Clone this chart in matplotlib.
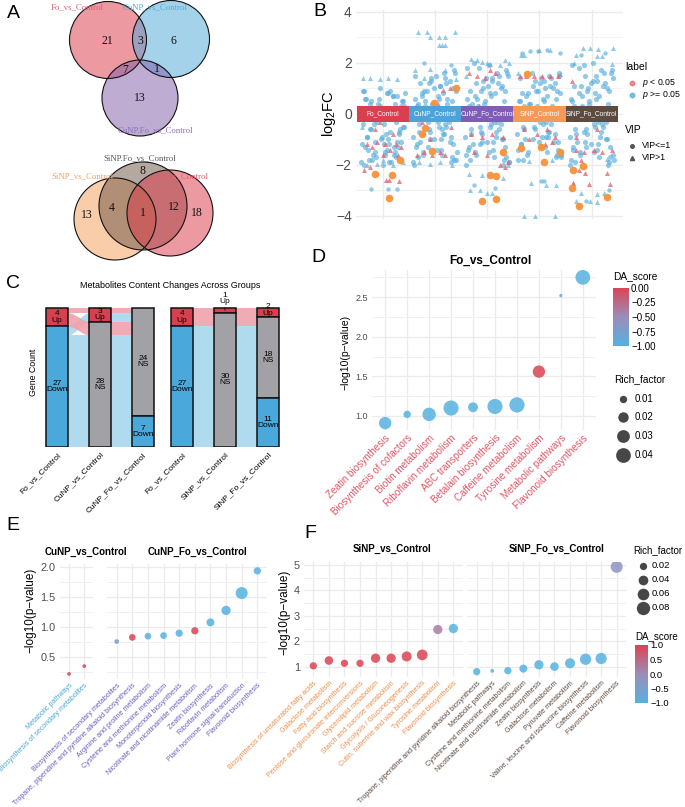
import numpy as np
import matplotlib
matplotlib.use('Agg')
import matplotlib.pyplot as plt
from matplotlib.patches import Circle, Rectangle
from matplotlib.lines import Line2D
from matplotlib.colors import LinearSegmentedColormap, Normalize

plt.rcParams['font.family'] = ['Liberation Sans', 'DejaVu Sans']
plt.rcParams['mathtext.fontset'] = 'custom'
plt.rcParams['mathtext.it'] = 'Liberation Sans:italic'
plt.rcParams['mathtext.rm'] = 'Liberation Sans'

# ---------------- data ----------------
# A: Venn diagrams (region code -> count, order of sets as listed)
venn_top_sets = ['Fo_vs_Control', 'CuNP_vs_Control', 'CuNP.Fo_vs_Control']
venn_top_regions = ['100', '010', '001', '110', '101', '011']
venn_top_counts = [21, 6, 13, 3, 7, 1]
venn_bot_sets = ['SiNP_vs_Control', 'SiNP.Fo_vs_Control', 'Fo_vs_Control']
venn_bot_regions = ['100', '010', '001', '110', '011', '111']
venn_bot_counts = [13, 8, 18, 4, 12, 1]

# B: log2FC per comparison
b_groups = ['Fo_Control', 'CuNP_Control', 'CuNP_Fo_Control', 'SiNP_Control', 'SiNP_Fo_Control']
b_jitter = [-0.38, 0.12, -0.05, 0.33, -0.21, 0.27, -0.12, 0.04, 0.39, -0.30, 0.18, -0.41, 0.08, -0.16,
            0.35, -0.02, 0.22, -0.34, 0.14, -0.08, 0.30, -0.25, 0.01, 0.41, -0.19, 0.10, -0.36, 0.25,
            -0.11, 0.37, -0.28, 0.06, 0.19, -0.40, 0.29, -0.06, 0.16, -0.23, 0.40, -0.14, 0.03, -0.32,
            0.24, -0.01, 0.34, -0.27, 0.11, -0.39, 0.21, -0.09, 0.31, -0.18, 0.07, 0.38, -0.35, 0.15,
            -0.04, 0.26, -0.22, 0.09, -0.42, 0.32, -0.13, 0.20, -0.31, 0.02, 0.36, -0.24, 0.13, -0.07,
            0.28, -0.37, 0.17, -0.15, 0.42, -0.29, 0.05, 0.23, -0.10, -0.33]
b_blue_y = [
    [0.9, -1.2, 0.3, -0.6, -1.8, 0.7, -0.2, -1.5, 0.5, -0.9, 0.1, -1.9, 0.8, -0.4, -1.1, 0.2, -1.6, 0.6,
     -0.7, -0.1, -1.3, 0.4, -2.0, -0.5, 0.0, -1.0, 0.9, -1.7, -0.3, 0.5, -1.4, -0.8, 0.7, -1.2, -0.2, 1.0,
     -1.9, -0.6, 0.3, -1.1, -0.4, 0.6, -1.5, -0.9, 0.1, -1.8, 0.8, -0.1, -1.3, 0.4, -0.7, -1.6, 0.2, -0.5,
     -2.0, 0.9, -1.0, -0.3, 0.5, -1.4, 0.0, -0.8, -1.7, 0.7, -0.2, -1.2, 0.3, -0.6, -1.9, 0.6, -1.1, -0.4,
     0.1, -1.5, 0.8, -0.9, -1.6, 0.4, -0.1, -1.3],
    [1.5, -1.0, 0.4, -1.7, 0.9, -0.3, 1.2, -1.4, 0.1, -0.7, 1.6, -1.9, 0.6, -0.1, -1.2, 1.0, -0.5, 0.3,
     -1.6, 1.4, -0.9, 0.8, -0.2, -1.8, 0.5, 1.1, -1.3, 0.0, -0.6, 1.7, -1.1, 0.7, -0.4, -2.0, 1.3, 0.2,
     -0.8, -1.5, 0.9, -0.3, 1.5, -1.7, 0.4, -1.0, 1.0, -0.1, -1.4, 0.6, 1.2, -0.7, -1.9, 0.3, -0.5, 1.6,
     -1.2, 0.8, -0.2, 0.0, -1.6, 1.1, -0.9, 0.5, -1.3, 1.4, -0.4, 0.2, -1.8, 0.7, -0.6, 1.3, -1.1, 0.1,
     -0.8, 0.9, -1.5, 1.2, -0.3, 0.6, -1.0, 0.4],
    [1.8, -1.1, 0.5, -1.8, 1.2, -0.4, 0.9, -1.5, 0.2, -0.8, 1.6, -2.0, 0.7, -0.2, -1.3, 1.4, -0.6, 0.3,
     -1.7, 1.0, -1.0, 2.0, -0.1, -1.9, 0.6, 1.3, -1.4, 0.0, -0.7, 1.7, -1.2, 0.8, -0.3, -1.6, 1.1, 0.4,
     -0.9, -1.5, 1.5, -0.5, 1.9, -1.8, 0.1, -1.1, 0.9, -0.2, -1.4, 0.6, 1.2, -0.8, -2.0, 0.3, -0.4, 1.6,
     -1.3, 0.8, -0.1, 1.0, -1.6, 1.4, -0.9, 0.5, -1.2, 0.2, -0.6, 1.1, -1.7, 0.7, -0.3, 1.3, -1.0, 0.0,
     -0.7, 1.8, -1.9, 0.4, -0.5, 1.5, -1.1, 0.9],
    [1.4, -0.9, 0.3, -1.6, 0.8, -0.2, 1.1, -1.3, 0.0, -0.6, 1.5, -1.8, 0.5, -0.1, -1.1, 0.9, -0.4, 0.2,
     -1.5, 1.3, -0.8, 0.7, -0.3, -1.7, 0.4, 1.0, -1.2, 0.1, -0.5, 1.6, -1.0, 0.6, -0.7, -1.4, 1.2, 0.2,
     -0.9, -1.6, 0.8, -0.2, 1.4, -1.8, 0.3, -1.1, 0.9, 0.0, -1.3, 0.5, 1.1, -0.6, -1.7, 0.4, -0.4, 1.5,
     -1.2, 0.7, -0.1, 1.0, -1.5, 1.3, -0.8, 0.6, -1.0, 0.2, -0.5, 1.2, -1.4, 0.1, -0.3, 0.9, -1.1, 0.5,
     -0.7, 1.6, -1.6, 0.3, -0.9, 1.4, -0.2, 0.8],
    [1.9, -1.2, 0.4, -1.9, 1.1, -0.3, 1.5, -1.5, 0.1, -0.8, 1.7, -2.0, 0.6, -0.1, -1.3, 1.2, -0.5, 0.3,
     -1.7, 0.9, -1.0, 1.8, -0.2, -1.6, 0.7, 1.3, -1.4, 0.0, -0.6, 1.6, -1.1, 0.8, -0.4, -1.8, 1.0, 0.5,
     -0.9, -1.5, 1.4, -0.7, 2.0, -1.9, 0.2, -1.2, 0.9, -0.2, -1.4, 0.6, 1.1, -0.8, -2.0, 0.3, -0.5, 1.7,
     -1.3, 0.7, 0.0, 1.2, -1.6, 1.5, -0.9, 0.4, -1.1, 0.1, -0.6, 1.3, -1.7, 0.8, -0.3, 1.0, -1.0, 0.5,
     -0.7, 1.9, -1.8, 0.2, -0.4, 1.6, -1.3, 1.1],
]
# (jitter, log2FC) of other points
b_blue_extra = [
    [(-0.23, -2.95), (0.1, -2.95), (0.28, -2.95)],
    [(-0.2, 2.0), (0.3, 1.9)],
    [(-0.25, -2.8), (0.15, -2.9)],
    [(-0.33, 2.4), (-0.18, 2.45), (-0.02, 2.45), (0.15, 2.5), (0.4, 2.4), (0.03, -2.65), (0.09, -2.65)],
    [(-0.2, 2.3), (0.25, 2.4), (-0.1, -3.4), (0.33, -3.0)],
]
b_blue_tri = [
    [(-0.38, 1.4), (-0.25, 1.4), (-0.05, 1.35), (0.1, 1.4), (0.27, 1.35), (-0.3, -2.0), (-0.1, -1.95),
     (0.2, -2.0), (0.38, -1.9), (0.35, 0.2), (-0.4, -0.5), (0.0, -1.8)],
    [(-0.33, 3.2), (-0.15, 3.2), (0.38, 3.2), (-0.1, 3.0), (0.08, 3.0), (0.19, 3.0), (0.08, 2.7),
     (0.14, 2.7), (0.2, 2.7), (-0.38, 1.7), (-0.1, 1.75), (0.2, 1.7), (-0.3, -1.9), (-0.1, -1.95),
     (0.1, -1.9), (0.32, -2.0), (0.4, 1.35), (-0.2, 1.4)],
    [(-0.3, 2.15), (-0.2, 2.1), (-0.1, 2.05), (0.0, 2.0), (0.05, 1.95), (0.35, 2.1), (0.42, 2.0),
     (-0.35, -2.35), (-0.1, -2.4), (-0.32, -3.0), (-0.13, -3.0), (0.0, -3.1), (0.1, -3.1), (0.3, -2.5),
     (0.4, -2.0), (-0.4, 1.5), (0.25, 1.9)],
    [(-0.36, 2.3), (-0.3, 2.3), (0.0, 2.5), (0.2, 2.5), (-0.17, -2.7), (0.13, -2.8), (0.32, -2.8),
     (-0.3, -4.0), (-0.08, -4.0), (0.3, -4.0), (-0.4, 1.6), (0.4, 1.55), (-0.2, -1.85), (0.25, -1.8)],
    [(-0.16, 2.6), (-0.03, 2.6), (0.12, 2.55), (0.41, 2.6), (-0.3, 2.3), (0.1, 2.25), (0.2, 2.25),
     (-0.33, 2.0), (-0.2, -3.1), (0.1, -3.15), (0.23, -3.1), (-0.3, -3.4), (-0.04, -3.4), (0.1, -3.45),
     (-0.36, -2.7), (0.38, 1.95), (0.3, -1.75)],
]
b_red_tri = [
    [(-0.3, -1.2), (-0.2, -1.3), (-0.1, -1.1), (0.05, -1.2), (0.15, -1.4), (0.25, -1.2), (0.35, -1.3),
     (-0.35, -2.2), (-0.25, -2.1), (0.07, -2.6), (0.13, -2.6), (0.31, -2.65), (-0.15, -0.6), (0.2, -0.8),
     (0.0, -1.6), (0.3, -1.6), (-0.05, -0.3)],
    [(0.15, 0.95), (0.28, 1.0), (-0.35, -1.6), (-0.2, -1.5), (-0.05, -1.6), (0.1, -1.5), (0.2, -1.6),
     (-0.25, -0.3), (0.3, -0.5), (0.05, 0.4), (-0.1, -1.0)],
    [(-0.35, 1.6), (-0.2, 1.5), (-0.05, 1.4), (0.05, 1.7), (0.15, 1.6), (-0.3, -0.8), (-0.1, -0.9),
     (0.1, -0.8), (0.3, -0.9), (-0.25, -1.5), (0.0, -1.6), (0.25, -2.0), (0.35, -2.1), (0.4, -1.9),
     (-0.15, 0.3)],
    [(-0.38, 1.5), (-0.25, 1.5), (-0.1, 1.5), (0.05, 1.5), (0.2, 1.5), (0.35, 1.5), (-0.3, -0.6),
     (-0.05, -0.8), (0.15, -0.6), (0.3, -0.9), (-0.2, -1.0), (0.1, -1.2), (0.25, -1.1)],
    [(-0.38, 1.3), (-0.3, -1.4), (-0.15, -1.5), (0.05, -1.4), (0.2, -1.5), (0.38, -1.4), (-0.2, -1.8),
     (-0.25, -2.2), (-0.12, -2.3), (0.3, -2.3), (-0.35, -2.7), (-0.05, -2.75), (0.35, -2.75),
     (0.1, -0.6), (-0.3, -0.9)],
]
b_top = [
    [(0.33, -1.8), (-0.15, -2.35), (0.18, -2.4), (0.12, -3.3)],
    [(-0.01, 0.42), (0.4, 1.0), (-0.19, -0.55), (-0.25, -0.8), (-0.05, -1.45)],
    [(0.3, -1.5), (0.06, -2.4), (0.16, -2.45), (-0.09, -3.4), (0.17, -3.35)],
    [(-0.24, 1.55), (-0.35, -1.35), (0.03, -1.28), (0.08, -1.87), (0.39, -1.5)],
    [(-0.36, -2.2), (-0.17, -2.05), (-0.37, -2.9), (-0.24, -3.6), (0.3, -3.25)],
]

# C: alluvial (status in each comparison, count)
c_left_groups = ['Fo_vs_Control', 'CuNP_vs_Control', 'CuNP_Fo_vs_Control']
c_left_alluvia = [(('Up', 'Up', 'NS'), 1), (('Down', 'Up', 'NS'), 2), (('Up', 'NS', 'NS'), 3),
                  (('Down', 'NS', 'NS'), 18), (('Down', 'NS', 'Down'), 7)]
c_right_groups = ['Fo_vs_Control', 'SiNP_vs_Control', 'SiNP_Fo_vs_Control']
c_right_alluvia = [(('Up', 'Up', 'Up'), 1), (('Up', 'NS', 'Up'), 1), (('Up', 'NS', 'NS'), 2),
                   (('Down', 'NS', 'NS'), 16), (('Down', 'NS', 'Down'), 11)]

# D
d_path = ['Zeatin biosynthesis', 'Biosynthesis of cofactors', 'Biotin metabolism', 'Riboflavin metabolism',
          'ABC transporters', 'Betalain biosynthesis', 'Caffeine metabolism', 'Tyrosine metabolism',
          'Metabolic pathways', 'Flavonoid biosynthesis']
d_logp = [0.91, 1.02, 1.02, 1.10, 1.11, 1.12, 1.14, 1.56, 2.52, 2.75]
d_rich = [0.028, 0.01, 0.033, 0.042, 0.018, 0.042, 0.043, 0.028, 0.002, 0.04]
d_da = [-1, -1, -1, -1, -1, -1, -1, 0, -1, -1]

# E
e1_path = ['Metabolic pathways', 'Biosynthesis of secondary metabolites']
e1_logp = [0.22, 0.35]
e1_rich = [0.001, 0.001]
e1_da = [1, 1]
e2_path = ['Biosynthesis of secondary metabolites', 'Tropane, piperidine and pyridine alkaloid biosynthesis',
           'Arginine and proline metabolism', 'Cysteine and methionine metabolism',
           'Monoterpenoid biosynthesis', 'Nicotinate and nicotinamide metabolism', 'Zeatin biosynthesis',
           'Riboflavin metabolism', 'Plant hormone signal transduction', 'Flavonoid biosynthesis']
e2_logp = [0.76, 0.83, 0.85, 0.86, 0.90, 0.94, 1.08, 1.28, 1.57, 1.94]
e2_rich = [0.005, 0.016, 0.016, 0.016, 0.02, 0.02, 0.025, 0.036, 0.064, 0.02]
e2_da = [-0.33, 1, -1, -1, -1, 1, -1, -1, -1, -1]

# F
f1_path = ['Biosynthesis of unsaturated fatty acids', 'Galactose metabolism', 'Fatty acid biosynthesis',
           'Pentose and glucuronate interconversions', 'Glycerolipid metabolism',
           'Starch and sucrose metabolism', 'Glycolysis / Gluconeogenesis',
           'Cutin, suberine and wax biosynthesis', 'Tyrosine metabolism', 'Flavonoid biosynthesis']
f1_logp = [1.03, 1.24, 1.13, 1.13, 1.33, 1.33, 1.40, 1.46, 2.46, 2.50]
f1_rich = [0.02, 0.03, 0.02, 0.02, 0.036, 0.036, 0.043, 0.05, 0.036, 0.036]
f1_da = [1, 1, 1, 1, 1, 1, 1, 1, 0.2, -1]
f2_path = ['Tropane, piperidine and pyridine alkaloid biosynthesis', 'Metabolic pathways',
           'Cysteine and methionine metabolism', 'Nicotinate and nicotinamide metabolism',
           'Zeatin biosynthesis', 'Galactose metabolism', 'Pyruvate metabolism',
           'Valine, leucine and isoleucine biosynthesis', 'Caffeine metabolism', 'Flavonoid biosynthesis']
f2_logp = [0.80, 0.83, 0.84, 0.92, 1.07, 1.00, 1.13, 1.29, 1.32, 4.93]
f2_rich = [0.02, 0.001, 0.02, 0.025, 0.036, 0.03, 0.043, 0.056, 0.056, 0.064]
f2_da = [-1, -1, -1, -1, -1, -1, -1, -1, -1, -0.2]

# ---------------- figure ----------------
W, H = 685, 807
fig = plt.figure(figsize=(W / 100, H / 100), dpi=100)


def px_axes(x0, y0, x1, y1):
    return fig.add_axes([x0 / W, 1 - y1 / H, (x1 - x0) / W, (y1 - y0) / H])


def ftext(x, y, s, **kw):
    return fig.text(x / W, 1 - y / H, s, **kw)


def fmarker(x, y, **kw):
    fig.add_artist(Line2D([x / W], [1 - y / H], transform=fig.transFigure, lw=0, **kw))


cmap = LinearSegmentedColormap.from_list('da', ['#56B1E0', '#9C8DB8', '#DC4353'])
GRID = '#EBEBEB'
TICK = '#4D4D4D'

for letter, (lx, ly) in zip('ABCDEF', [(13, 13), (320, 12), (13, 284), (318, 258), (13, 525), (310, 533)]):
    ftext(lx, ly, letter, fontsize=14, ha='center', va='center')

# ---- A: Venn ----
axA = px_axes(0, 0, 215, 270)
axA.set_xlim(0, 215)
axA.set_ylim(270, 0)
axA.axis('off')

venn_layouts = [
    dict(sets=venn_top_sets, regions=venn_top_regions, counts=venn_top_counts,
         geo=[((108, 40), 38.5), ((171, 39), 38.5), ((140, 98), 38)],
         fill=['#DC3545', '#4DA6D9', '#7E5AA8'], text=['#E0606E', '#4BAEDD', '#8A6FC0'],
         label_xy=[(77, 7), (155, 7), (155, 130)],
         region_xy={'100': (107, 41), '010': (173, 41), '001': (140, 98), '110': (140, 41),
                    '101': (125, 70), '011': (157, 69)}),
    dict(sets=venn_bot_sets, regions=venn_bot_regions, counts=venn_bot_counts,
         geo=[((115, 219), 41), ((143, 206), 44), ((170, 213), 43)],
         fill=['#F59C55', '#6B5344', '#DC3545'], text=['#F5A060', '#555555', '#E0606E'],
         label_xy=[(82, 176), (140, 158), (182, 176)],
         region_xy={'100': (87, 215), '010': (143, 171), '001': (197, 213), '110': (112, 208),
                    '011': (174, 207), '111': (143, 213)}),
]
for v in venn_layouts:
    for (c, r), fc in zip(v['geo'], v['fill']):
        axA.add_patch(Circle(c, r, facecolor=fc, alpha=0.5, edgecolor='none'))
    for (c, r) in v['geo']:
        axA.add_patch(Circle(c, r, facecolor='none', edgecolor='#111111', lw=0.8))
    for name, xy, col in zip(v['sets'], v['label_xy'], v['text']):
        axA.text(*xy, name, color=col, fontsize=6.3, ha='center', va='center', family='Liberation Serif')
    for reg, n in zip(v['regions'], v['counts']):
        axA.text(*v['region_xy'][reg], str(n), fontsize=8.5, ha='center', va='center',
                 family='Liberation Serif', color='#111111')

# ---- B: log2FC scatter ----
axB = px_axes(356, 10, 623, 219)
axB.set_xlim(0.49, 5.6)
axB.set_ylim(-4.12, 4.07)
for i in range(len(b_groups)):
    xc = i + 1
    by = b_blue_y[i]
    axB.scatter(xc + np.array(b_jitter[:len(by)]), by, s=14, color='#5AAEDD', alpha=0.65, lw=0, zorder=2)
    ex = np.array(b_blue_extra[i])
    axB.scatter(xc + ex[:, 0], ex[:, 1], s=10, color='#5AAEDD', alpha=0.65, lw=0, zorder=2)
    bt = np.array(b_blue_tri[i])
    axB.scatter(xc + bt[:, 0], bt[:, 1], s=13, marker='^', color='#5AAEDD', alpha=0.65, lw=0, zorder=2)
    rt = np.array(b_red_tri[i])
    axB.scatter(xc + rt[:, 0], rt[:, 1], s=13, marker='^', color='#E0606E', alpha=0.75, lw=0, zorder=3)
    tp = np.array(b_top[i])
    axB.scatter(xc + tp[:, 0], tp[:, 1], s=30, color='#F7923A', alpha=0.95, lw=0, zorder=4)
b_band_colors = ['#D8404F', '#4DA3D8', '#7E5CB8', '#F59A55', '#5F4A3F']
for i, (g, col) in enumerate(zip(b_groups, b_band_colors)):
    axB.add_patch(Rectangle((i + 0.5, -0.3), 1, 0.6, facecolor=col, edgecolor='none', zorder=6))
    axB.text(i + 1, 0, g, color='white', fontsize=4.8, ha='center', va='center', zorder=7)
axB.set_xticks(range(1, 6))
axB.set_xticklabels([])
axB.set_yticks([-4, -2, 0, 2, 4])
axB.set_yticks([-3, -1, 1, 3], minor=True)
axB.grid(True, which='major', color=GRID, lw=1.0)
axB.grid(True, which='minor', axis='y', color='#F2F2F2', lw=0.8)
axB.set_axisbelow(True)
for s in axB.spines.values():
    s.set_visible(False)
axB.tick_params(which='both', length=0, labelsize=10, labelcolor=TICK, pad=3)
ftext(329, 114, 'log$_2$FC', rotation=90, fontsize=10.5, ha='center', va='center')
ftext(625, 67, 'label', fontsize=7.5, va='center')
fmarker(632, 83, marker='o', ms=3.2, color='#E0606E', alpha=0.7)
ftext(642, 83, '$p$ < 0.05', fontsize=6.3, va='center')
fmarker(632, 95, marker='o', ms=3.2, color='#5AAEDD', alpha=0.8)
ftext(642, 95, '$p$ >= 0.05', fontsize=6.3, va='center')
ftext(625, 130, 'VIP', fontsize=7.5, va='center')
fmarker(632, 146, marker='o', ms=2.6, color='#555555')
ftext(642, 146, 'VIP<=1', fontsize=6.3, va='center')
fmarker(632, 158, marker='^', ms=3.0, color='#555555')
ftext(642, 158, 'VIP>1', fontsize=6.3, va='center')

# ---- C: alluvial ----
c_status_colors = {'Up': '#D8404F', 'NS': '#A2A2A6', 'Down': '#4BA8DA'}
c_flow_colors = {'Up': '#EFA2AC', 'Down': '#A8D6EC'}
c_order = ['Up', 'NS', 'Down']


def draw_alluvial(ax, groups, alluvia):
    total = sum(c for _, c in alluvia)
    w = 0.5
    positions, strata = [], []
    for j in range(len(groups)):
        cum, p, st_list = 0, {}, []
        for st in c_order:
            start = cum
            for k, (path, c) in enumerate(alluvia):
                if path[j] == st:
                    p[k] = (total - cum, total - cum - c)
                    cum += c
            if cum > start:
                st_list.append((st, start, cum))
        positions.append(p)
        strata.append(st_list)
    t = np.linspace(0, 1, 60)
    sm = t * t * (3 - 2 * t)
    for j in range(len(groups) - 1):
        xs = np.linspace(j + 1 + w / 2, j + 2 - w / 2, 60)
        for k, (path, c) in enumerate(alluvia):
            a0, b0 = positions[j][k]
            a1, b1 = positions[j + 1][k]
            ax.fill_between(xs, b0 + (b1 - b0) * sm, a0 + (a1 - a0) * sm,
                            color=c_flow_colors[path[0]], lw=0, alpha=0.9)
    for j in range(len(groups)):
        for st, a, b in strata[j]:
            ax.add_patch(Rectangle((j + 1 - w / 2, total - b), w, b - a, facecolor=c_status_colors[st],
                                   edgecolor='#111111', lw=1.1, zorder=3))
            cy = total - (a + b) / 2
            n = b - a
            if n >= 3:
                ax.text(j + 1, cy, f'{n}\n{st}', ha='center', va='center', fontsize=6,
                        linespacing=0.85, zorder=4)
            else:
                ax.annotate(f'{n}\n{st}', xy=(j + 1, cy), xytext=(0, 11 - 7 * n),
                            textcoords='offset points', ha='center', va='bottom', fontsize=6,
                            linespacing=0.85, zorder=4,
                            arrowprops=dict(arrowstyle='-', lw=0.6, color='#111111',
                                            shrinkA=0, shrinkB=0))
    ax.set_xlim(0.488, 3.512)
    ax.set_ylim(0, 35.04)
    ax.set_xticks([1, 2, 3])
    ax.set_xticklabels(groups, rotation=45, ha='right', va='top', rotation_mode='anchor', fontsize=6)
    ax.tick_params(axis='x', length=0, pad=3)
    ax.set_yticks([])
    for s in ax.spines.values():
        s.set_visible(False)
    ax.patch.set_alpha(0)


axC1 = px_axes(35, 290, 165, 447)
draw_alluvial(axC1, c_left_groups, c_left_alluvia)
axC2 = px_axes(160, 290, 290, 447)
draw_alluvial(axC2, c_right_groups, c_right_alluvia)
ftext(170, 286, 'Metabolites Content Changes Across Groups', fontsize=6.5, ha='center', va='center')
ftext(33, 372, 'Gene Count', fontsize=6.3, rotation=90, ha='center', va='center')


# ---- dot plots (D, E, F) ----
def size_d(r):
    return 2815 * np.asarray(r)


def size_ef(r):
    return 6.2 + 1071 * np.asarray(r)


def dot_panel(ax, names, logp, rich, da, lab_color, norm, size_fn, ylim, major, minor, show_y,
              lab_size, tick_size):
    x = np.arange(1, len(names) + 1)
    ax.scatter(x, logp, s=size_fn(rich), color=cmap(norm(np.asarray(da, float))), alpha=0.85,
               lw=0, zorder=3)
    ax.set_xlim(0.4, len(names) + 0.6)
    ax.set_ylim(*ylim)
    ax.set_yticks(major)
    ax.set_yticks(minor, minor=True)
    ax.grid(True, which='major', color=GRID, lw=0.9)
    ax.grid(True, which='minor', axis='y', color='#F0F0F0', lw=0.7)
    ax.set_axisbelow(True)
    for s in ax.spines.values():
        s.set_visible(False)
    ax.tick_params(which='both', length=0)
    ax.tick_params(axis='y', labelsize=tick_size, labelcolor=TICK, pad=3)
    ax.tick_params(axis='x', pad=2)
    ax.set_xticks(x)
    ax.set_xticklabels(names, rotation=45, ha='right', va='top', rotation_mode='anchor',
                       fontsize=lab_size, color=lab_color)
    if not show_y:
        ax.set_yticklabels([])


YLAB = '\u2212log10(p\u2212value)'

# D
axD = px_axes(372, 270, 596, 430)
dot_panel(axD, d_path, d_logp, d_rich, d_da, '#E05565', Normalize(-1, 0), size_d, (0.823, 2.843),
          [1.0, 1.5, 2.0, 2.5], [1.25, 1.75, 2.25, 2.75], True, 7.1, 6.5)
ftext(490, 261, 'Fo_vs_Control', fontsize=8.5, fontweight='bold', ha='center', va='center')
ftext(345, 352, YLAB, fontsize=7.5, rotation=90, ha='center', va='center')


def colorbar_at(x0, y0, x1, y1, vmin, vmax, ticks, labels, fs):
    cax = px_axes(x0, y0, x1, y1)
    grad = np.linspace(vmax, vmin, 200).reshape(-1, 1)
    cax.imshow(grad, aspect='auto', cmap=cmap, extent=[0, 1, vmin, vmax],
               norm=Normalize(min(vmin, -1), max(vmax, 1)) if vmax > 0 else Normalize(-1, 0))
    cax.set_xticks([])
    cax.yaxis.tick_right()
    cax.set_yticks(ticks)
    cax.set_yticklabels(labels)
    cax.tick_params(axis='y', length=0, labelsize=fs, pad=1.5)
    for s in cax.spines.values():
        s.set_visible(False)


ftext(613, 276, 'DA_score', fontsize=7.3, va='center')
colorbar_at(613, 288, 629, 346, -1.0, 0.0, [0, -0.25, -0.5, -0.75, -1.0],
            ['0.00', '\u22120.25', '\u22120.50', '\u22120.75', '\u22121.00'], 7)
ftext(614, 379, 'Rich_factor', fontsize=7.3, va='center')
for val, yy in zip([0.01, 0.02, 0.03, 0.04], [399, 417, 436, 455]):
    fmarker(623, yy, marker='o', ms=float(np.sqrt(size_d(val))), color='#333333', alpha=0.9, mew=0)
    ftext(635, yy, f'{val:.2f}', fontsize=7, va='center')

# E
e_ylim = (0.13, 2.05)
axE1 = px_axes(59.8, 564.3, 93.5, 679.3)
dot_panel(axE1, e1_path, e1_logp, e1_rich, e1_da, '#4BA6D8', Normalize(-1, 1), size_ef, e_ylim,
          [0.5, 1.0, 1.5, 2.0], [0.25, 0.75, 1.25, 1.75], True, 5.1, 7.8)
axE2 = px_axes(107.3, 564.3, 266.7, 679.3)
dot_panel(axE2, e2_path, e2_logp, e2_rich, e2_da, '#6F5CC0', Normalize(-1, 1), size_ef, e_ylim,
          [0.5, 1.0, 1.5, 2.0], [0.25, 0.75, 1.25, 1.75], False, 5.1, 7.8)
ftext(86, 552, 'CuNP_vs_Control', fontsize=7, fontweight='bold', ha='center', va='center')
ftext(198, 552, 'CuNP_Fo_vs_Control', fontsize=7, fontweight='bold', ha='center', va='center')
ftext(30, 610, YLAB, fontsize=8.5, rotation=90, ha='center', va='center')

# F
f_ylim = (0.59, 5.14)
axF1 = px_axes(304, 561.5, 462.7, 677)
dot_panel(axF1, f1_path, f1_logp, f1_rich, f1_da, '#F08C48', Normalize(-1, 1), size_ef, f_ylim,
          [1, 2, 3, 4, 5], [1.5, 2.5, 3.5, 4.5], True, 5.1, 7.8)
axF2 = px_axes(467.4, 561.5, 626, 677)
dot_panel(axF2, f2_path, f2_logp, f2_rich, f2_da, '#5D4A3E', Normalize(-1, 1), size_ef, f_ylim,
          [1, 2, 3, 4, 5], [1.5, 2.5, 3.5, 4.5], False, 5.1, 7.8)
ftext(392, 549, 'SiNP_vs_Control', fontsize=7, fontweight='bold', ha='center', va='center')
ftext(557, 549, 'SiNP_Fo_vs_Control', fontsize=7, fontweight='bold', ha='center', va='center')
ftext(284, 612, YLAB, fontsize=8.5, rotation=90, ha='center', va='center')

ftext(633, 550, 'Rich_factor', fontsize=7, va='center')
for val, yy in zip([0.02, 0.04, 0.06, 0.08], [566, 580, 594, 608]):
    fmarker(643, yy, marker='o', ms=float(np.sqrt(size_ef(val))), color='#333333', alpha=0.9, mew=0)
    ftext(652, yy, f'{val:.2f}', fontsize=6.8, va='center')
ftext(635, 636, 'DA_score', fontsize=7, va='center')
colorbar_at(635, 645, 648, 703, -1.0, 1.0, [1.0, 0.5, 0.0, -0.5, -1.0],
            ['1.0', '0.5', '0.0', '\u22120.5', '\u22121.0'], 6.8)

fig.savefig('out.png', dpi=100)
